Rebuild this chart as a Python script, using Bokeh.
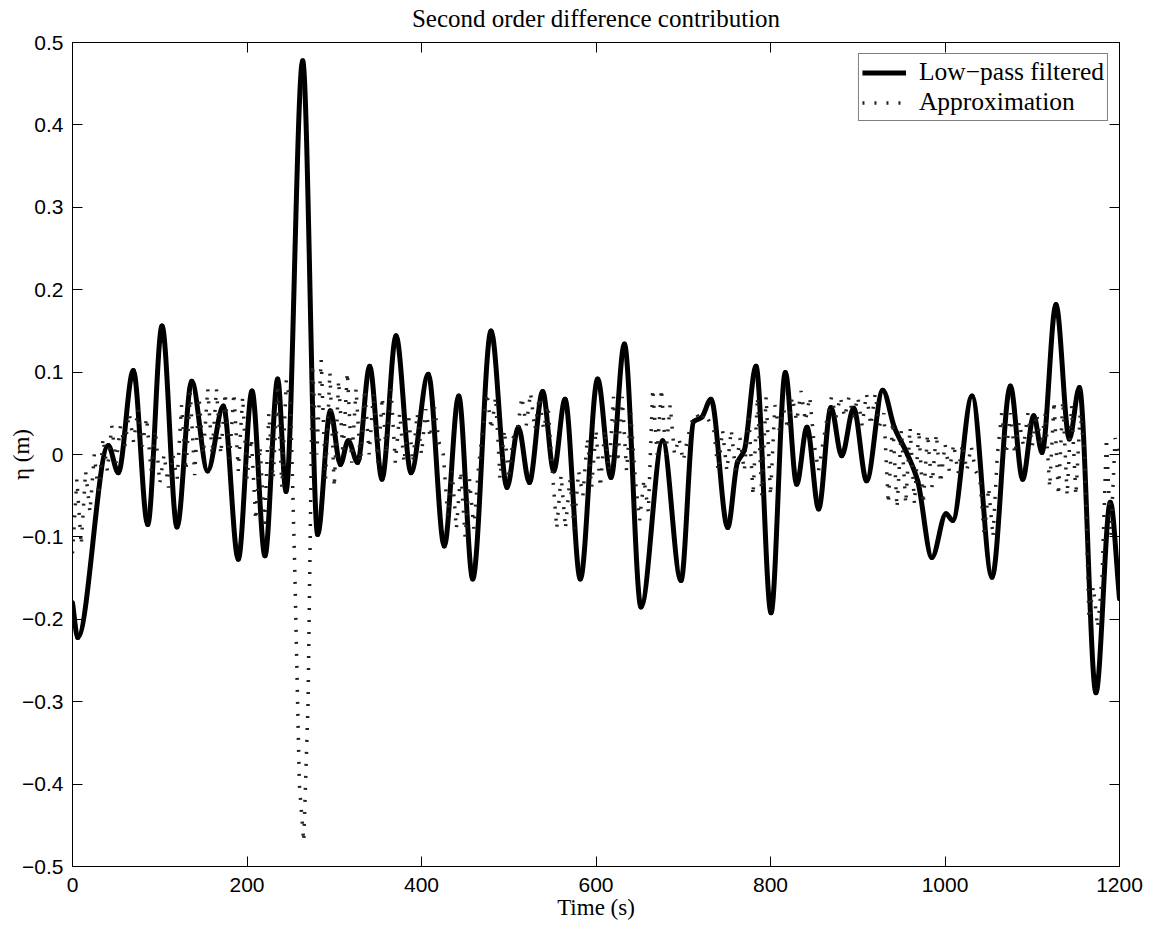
import numpy as np
from bokeh.plotting import figure
from bokeh.models import Range1d, FixedTicker, LinearAxis, Legend, LegendItem
from bokeh.embed import file_html
from bokeh.resources import INLINE

# ---------------- data ----------------
# Low-pass filtered signal: turning points / shoulders (time s, eta m)
lp_time = [0, 6, 41, 52.5, 69.7, 86.2, 102.6, 119.8, 136.6, 154.9, 172.9, 190,
           205.7, 220.6, 235.2, 244.7, 263.8, 281, 295.5, 307, 316, 326.8, 340.6,
           354.7, 370.8, 388, 407.8, 426.1, 442.6, 458.7, 479.7, 498, 511, 523.6,
           538.9, 551.5, 564.5, 582, 601.9, 617.2, 632.5, 651.6, 676.4, 697.4,
           712, 721, 731.8, 751, 762, 770, 783.4, 800.6, 817, 830, 841.8, 855.2,
           869.3, 881.6, 895.3, 910.2, 928.6, 942, 957, 968.7, 985, 1001.1,
           1008.8, 1031, 1053.9, 1074.9, 1089, 1101.7, 1111.2, 1127.2, 1142.5,
           1154, 1173, 1189.5, 1200]
lp_eta = [-0.18, -0.222, 0.011, -0.022, 0.102, -0.085, 0.156, -0.088, 0.089, -0.02,
          0.059, -0.127, 0.077, -0.123, 0.0915, -0.045, 0.478, -0.097, 0.053,
          -0.012, 0.0166, -0.0097, 0.107, -0.03, 0.144, -0.022, 0.0975, -0.111,
          0.071, -0.151, 0.15, -0.04, 0.033, -0.034, 0.0765, -0.02, 0.067, -0.151,
          0.0915, -0.028, 0.134, -0.185, 0.0166, -0.153, 0.04, 0.045, 0.067,
          -0.0886, -0.01, 0.005, 0.107, -0.192, 0.0995, -0.036, 0.033, -0.066,
          0.057, -0.0016, 0.056, -0.032, 0.078, 0.033, 0.0, -0.032, -0.125,
          -0.072, -0.08, 0.071, -0.149, 0.083, -0.03, 0.047, 0.0024, 0.182,
          0.0187, 0.0813, -0.289, -0.058, -0.175]

# Approximation: values every 5 s from 0 to 1200 s
approx_eta = [
    -0.12, -0.03, -0.11, -0.02, -0.07, 0.00, -0.05, 0.02, -0.02, 0.035, -0.01, 0.035,
    0.01, 0.05, 0.015, 0.055, 0.01, 0.045, -0.02, 0.03, -0.035, 0.0, -0.04, 0.0,
    -0.03, 0.06, -0.02, 0.075, -0.025, 0.07, 0.0, 0.08, 0.0, 0.08, 0.0, 0.075,
    -0.005, 0.075, -0.02, 0.07, -0.03, 0.02, -0.08, 0.01, -0.09, 0.05, -0.03, 0.085,
    -0.04, 0.09, 0.06, -0.15, -0.40, -0.47, -0.30, 0.11, 0.0, 0.115, -0.03, 0.1,
    -0.04, 0.09, 0.0, 0.1, -0.01, 0.08, -0.01, 0.08, 0.0, 0.075, -0.01, 0.07,
    0.0, 0.08, -0.01, 0.05, -0.01, 0.05, -0.01, 0.05, 0.0, 0.055, 0.02, 0.057,
    0.015, 0.0, -0.075, -0.02, -0.09, -0.02, -0.1, -0.03, -0.09, -0.02, 0.03, 0.075,
    0.03, 0.07, -0.03, 0.03, -0.03, 0.02, 0.03, 0.07, 0.035, 0.075, 0.03, 0.07,
    0.03, 0.06, -0.02, -0.09, -0.025, -0.09, -0.03, -0.09, -0.02, -0.05, 0.02, -0.04,
    0.03, -0.04, 0.03, -0.02, 0.07, -0.01, 0.07, -0.02, 0.05, -0.03, -0.08, -0.03,
    -0.07, 0.08, 0.0, 0.08, 0.0, 0.06, 0.0, 0.02, -0.008, 0.02, 0.04, 0.05,
    0.04, 0.05, 0.04, 0.03, -0.02, 0.03, -0.02, 0.03, -0.02, 0.02, -0.02, 0.05,
    -0.05, 0.07, -0.05, 0.07, -0.05, 0.06, 0.03, 0.055, 0.03, 0.07, 0.04, 0.077,
    0.04, 0.07, 0.013, -0.02, 0.013, 0.045, 0.07, 0.045, 0.07, 0.045, 0.07, 0.045,
    0.07, 0.035, 0.074, 0.035, 0.074, 0.035, 0.05, -0.06, 0.04, -0.065, 0.03, -0.06,
    0.033, -0.06, 0.03, -0.06, 0.025, -0.04, 0.025, -0.035, 0.013, -0.02, 0.013, -0.023,
    0.013, -0.02, 0.01, -0.02, -0.03, -0.1, -0.04, -0.1, 0.0, 0.05, 0.0, 0.05,
    0.0, 0.04, 0.01, 0.05, 0.01, 0.05, 0.01, 0.05, -0.04, 0.065, -0.05, 0.065,
    -0.05, 0.06, -0.05, 0.05, 0.0, -0.2, -0.16, -0.21, -0.15, 0.02, -0.1, 0.02,
    -0.005]
approx_time = [5 * i for i in range(len(approx_eta))]

x_ticks = [0, 200, 400, 600, 800, 1000, 1200]
x_tick_labels = ["0", "200", "400", "600", "800", "1000", "1200"]
y_ticks = [-0.5, -0.4, -0.3, -0.2, -0.1, 0, 0.1, 0.2, 0.3, 0.4, 0.5]
y_tick_labels = ["\u22120.5", "\u22120.4", "\u22120.3", "\u22120.2", "\u22120.1", "0",
                 "0.1", "0.2", "0.3", "0.4", "0.5"]

title_text = "Second order difference contribution"
x_label = "Time (s)"
y_label = "\u03b7 (m)"
series_names = ["Low\u2212pass filtered", "Approximation"]

SANS = "Liberation Sans"
SERIF = "Liberation Serif"

# ---------------- figure ----------------
p = figure(width=1150, height=930, output_backend="svg", toolbar_location=None,
           x_range=Range1d(0, 1200), y_range=Range1d(-0.5, 0.5),
           min_border_left=72, min_border_right=31, min_border_top=42,
           min_border_bottom=64)

p.xgrid.visible = False
p.ygrid.visible = False
p.outline_line_color = "black"
p.outline_line_width = 1
p.background_fill_color = "white"
p.border_fill_color = "white"

bottom_ax = p.below[0]
left_ax = p.left[0]
bottom_ax.ticker = FixedTicker(ticks=x_ticks)
left_ax.ticker = FixedTicker(ticks=y_ticks)
bottom_ax.major_label_overrides = {t: l for t, l in zip(x_ticks, x_tick_labels)}
left_ax.major_label_overrides = {t: l for t, l in zip(y_ticks, y_tick_labels)}

right_ax = LinearAxis(ticker=FixedTicker(ticks=y_ticks), major_label_text_font_size="1px",
                      major_label_text_color=None, major_label_standoff=0)
top_ax = LinearAxis(ticker=FixedTicker(ticks=x_ticks), major_label_text_font_size="1px",
                    major_label_text_color=None, major_label_standoff=0)
p.add_layout(right_ax, "right")
p.add_layout(top_ax, "above")

for ax in [bottom_ax, left_ax, right_ax, top_ax]:
    ax.axis_line_color = "black"
    ax.axis_line_width = 1
    ax.major_tick_in = 10
    ax.major_tick_out = 0
    ax.major_tick_line_color = "black"
    ax.minor_tick_line_color = None
    ax.major_label_text_font = SANS
    ax.axis_label_text_font = SERIF
    ax.axis_label_text_font_style = "normal"
    ax.axis_label_text_color = "black"
for ax in [bottom_ax, left_ax]:
    ax.major_label_text_font_size = "21px"
    ax.major_label_text_color = "black"
    ax.axis_label_text_font_size = "23px"
left_ax.major_label_standoff = 9
bottom_ax.major_label_standoff = 11
bottom_ax.axis_label = x_label
bottom_ax.axis_label_standoff = 0
left_ax.axis_label = y_label
left_ax.axis_label_standoff = -15
# the title sits above the frame as the top axis label
top_ax.axis_label = title_text
top_ax.axis_label_text_font_size = "25px"
top_ax.axis_label_standoff = 11

# ---------------- low-pass line: smooth monotone cubic through turning points ----------------
t = np.array(lp_time, dtype=float)
v = np.array(lp_eta, dtype=float)
h = np.diff(t)
d = np.diff(v) / h
m = np.zeros_like(v)
m[0] = d[0]
m[-1] = d[-1]
for k in range(1, len(v) - 1):
    if d[k - 1] * d[k] > 0:
        w1 = 2 * h[k] + h[k - 1]
        w2 = h[k] + 2 * h[k - 1]
        m[k] = (w1 + w2) / (w1 / d[k - 1] + w2 / d[k])
p.bezier(x0=t[:-1], y0=v[:-1], x1=t[1:], y1=v[1:],
         cx0=t[:-1] + h / 3, cy0=v[:-1] + m[:-1] * h / 3,
         cx1=t[1:] - h / 3, cy1=v[1:] - m[1:] * h / 3,
         line_color="black", line_width=5, line_cap="round")
# single-point line (draws nothing) used only for the legend swatch
lp_legend = p.line([lp_time[0]], [lp_eta[0]], line_color="black", line_width=5)

# ---------------- approximation (dotted) ----------------
ap = p.line(approx_time, approx_eta, line_color="#222222", line_width=3.5, line_dash="2 10")

legend = Legend(items=[LegendItem(label=series_names[0], renderers=[lp_legend]),
                       LegendItem(label=series_names[1], renderers=[ap])],
                location="top_right", margin=11, padding=3, spacing=0,
                label_text_font=SERIF, label_text_font_size="25.5px",
                label_text_color="black",
                label_height=25, glyph_height=25, glyph_width=44, label_standoff=13,
                border_line_color="black", border_line_width=1,
                background_fill_color="white", background_fill_alpha=1)
p.add_layout(legend)

open("out.html", "w").write(file_html(p, INLINE))
